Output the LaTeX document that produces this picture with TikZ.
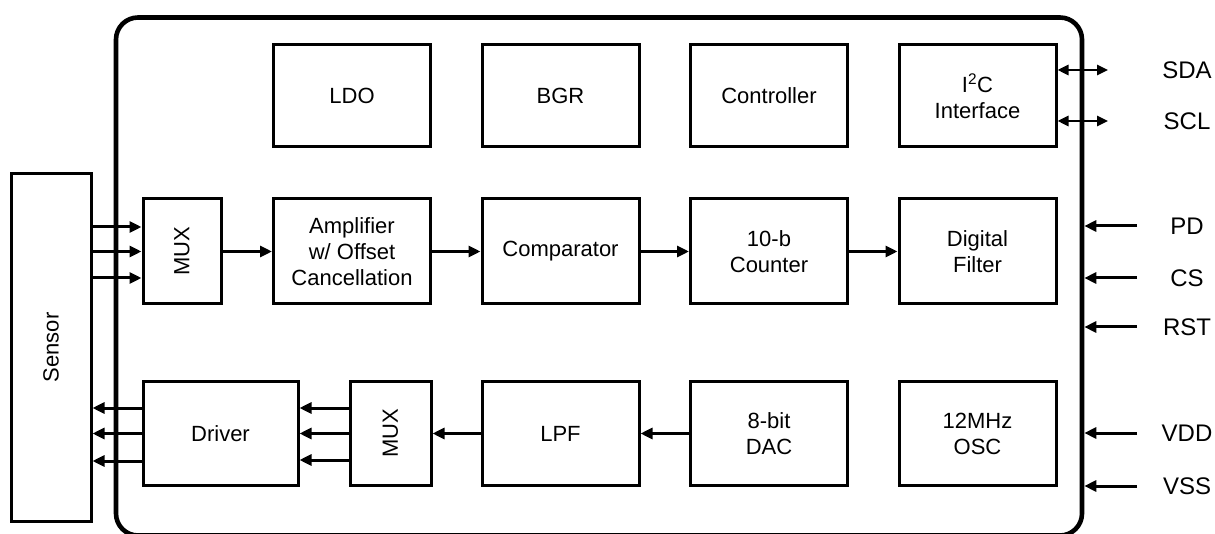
\documentclass[tikz,border=0pt]{standalone}
\usepackage{fontspec}
\setmainfont{Liberation Sans}
\usetikzlibrary{arrows.meta}
\begin{document}
\begin{tikzpicture}[x=1pt,y=-1pt,
  blk/.style={draw,line width=3pt,rectangle,inner sep=0pt,align=center,
    font=\fontsize{22}{26}\selectfont},
  wide/.style={blk,minimum width=157pt,minimum height=104pt},
  lbl/.style={font=\fontsize{24}{28}\selectfont,inner sep=0pt},
  arr/.style={line width=3pt,-{Triangle[length=12pt,width=11pt]}},
  arrb/.style={line width=2.6pt,{Triangle[length=11pt,width=10pt]}-{Triangle[length=11pt,width=10pt]}}]
\useasboundingbox (0,0) rectangle (1215,534);
% chip outline
\node[draw,line width=4.6pt,rounded corners=22pt,minimum width=966pt,minimum height=518pt,inner sep=0pt] (chip) at (599,276.5) {};
% sensor
\node[blk,minimum width=80pt,minimum height=347pt] (sensor) at (51,347.5) {\rotatebox{90}{Sensor}};
% top row
\node[wide,minimum height=102pt] (ldo) at (352,96) {LDO};
\node[wide,minimum height=102pt] (bgr) at (560.5,96) {BGR};
\node[wide,minimum height=102pt] (ctrl) at (769,96) {Controller};
\node[wide,minimum height=102pt] (i2c) at (977.5,96) {I\textsuperscript{2}C\\Interface};
% middle row
\node[blk,minimum width=78pt,minimum height=105pt] (mux1) at (182,251.5) {\rotatebox{90}{MUX}};
\node[wide,minimum height=105pt] (amp) at (352,251.5) {Amplifier\\w/ Offset\\Cancellation};
\node[wide,minimum height=105pt] (comp) at (560.5,251.5) {Comparator};
\node[wide,minimum height=105pt] (cnt) at (769,251.5) {10-b\\Counter};
\node[wide,minimum height=105pt] (filt) at (977.5,251.5) {Digital\\Filter};
% bottom row
\node[blk,minimum width=155pt,minimum height=104pt] (drv) at (220.5,433.5) {Driver};
\node[blk,minimum width=81pt,minimum height=104pt] (mux2) at (390.5,433.5) {\rotatebox{90}{MUX}};
\node[wide] (lpf) at (560.5,433.5) {LPF};
\node[wide] (dac) at (769,433.5) {8-bit\\DAC};
\node[wide] (osc) at (977.5,433.5) {12MHz\\OSC};
% sensor -> mux1
\path ([yshift=24.5pt]mux1.west) coordinate (m1a)
      (mux1.west) coordinate (m1b)
      ([yshift=-26.5pt]mux1.west) coordinate (m1c);
\foreach \c in {m1a,m1b,m1c} \draw[arr] (\c -| sensor.east) -- (\c);
% middle chain
\draw[arr] (mux1.east) -- (amp.west);
\draw[arr] (amp.east) -- (comp.west);
\draw[arr] (comp.east) -- (cnt.west);
\draw[arr] (cnt.east) -- (filt.west);
% bottom chain
\draw[arr] (dac.west) -- (lpf.east);
\draw[arr] (lpf.west) -- (mux2.east);
\path ([yshift=25.5pt]mux2.west) coordinate (m2a)
      (mux2.west) coordinate (m2b)
      ([yshift=-26.5pt]mux2.west) coordinate (m2c);
\foreach \c in {m2a,m2b,m2c} \draw[arr] (\c) -- (\c -| drv.east);
\path ([yshift=25.5pt]drv.west) coordinate (da)
      (drv.west) coordinate (db)
      ([yshift=-27.5pt]drv.west) coordinate (dc);
\foreach \c in {da,db,dc} \draw[arr] (\c) -- (\c -| sensor.east);
% right side labels
\node[lbl] (sda) at (1187,70) {SDA};
\node[lbl] (scl) at (1187,121) {SCL};
\node[lbl] (pd) at (1187,226) {PD};
\node[lbl] (cs) at (1187,278) {CS};
\node[lbl] (rst) at (1187,327) {RST};
\node[lbl] (vdd) at (1187,433) {VDD};
\node[lbl] (vss) at (1187,486) {VSS};
\coordinate (sdae) at (1108,70);
\coordinate (scle) at (1108,121);
\draw[arrb] (sdae -| i2c.east) -- (sdae);
\draw[arrb] (scle -| i2c.east) -- (scle);
\foreach \s/\y in {pd/226,cs/278,rst/327,vdd/433,vss/486}{
  \coordinate (\s in) at (1137,\y);
  \draw[arr] (\s in) -- (\s in -| chip.east);
}
\end{tikzpicture}
\end{document}
